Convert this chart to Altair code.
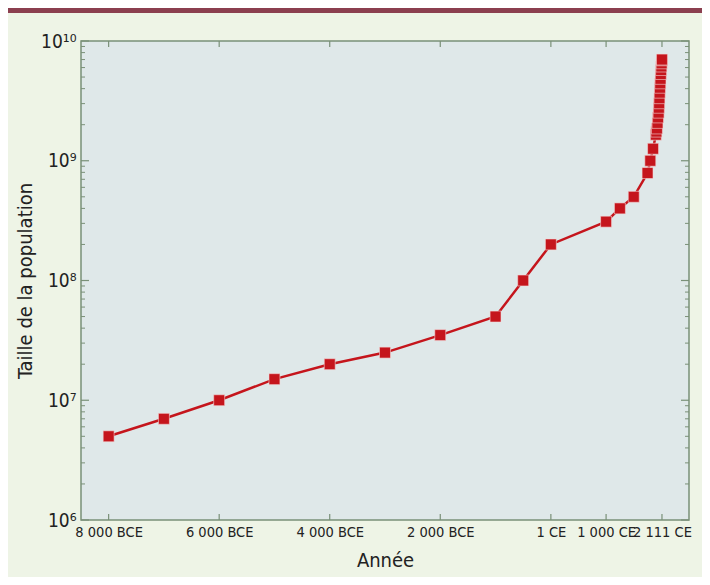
import altair as alt
import pandas as pd

# --- data ---
years = [-8000, -7000, -6000, -5000, -4000, -3000, -2000, -1000, -500, 1,
         1000, 1250, 1500, 1750, 1800, 1850, 1900, 1910, 1920, 1930, 1940,
         1950, 1955, 1960, 1965, 1970, 1975, 1980, 1985, 1990, 1995, 2000,
         2005, 2010, 2011]
population = [5e6, 7e6, 1e7, 1.5e7, 2e7, 2.5e7, 3.5e7, 5e7, 1e8, 2e8,
              3.1e8, 4e8, 5e8, 7.9e8, 1e9, 1.26e9, 1.65e9, 1.75e9, 1.86e9, 2.07e9, 2.3e9,
              2.52e9, 2.77e9, 3.02e9, 3.33e9, 3.7e9, 4.07e9, 4.43e9, 4.83e9, 5.3e9, 5.72e9, 6.12e9,
              6.51e9, 6.9e9, 7.0e9]

x_ticks = [-8000, -6000, -4000, -2000, 1, 1000, 2011]
x_labels = ["8 000 BCE", "6 000 BCE", "4 000 BCE", "2 000 BCE", "1 CE", "1 000 CE", "2 111 CE"]
y_ticks = [1e6, 1e7, 1e8, 1e9, 1e10]
y_labels = ["10⁶", "10⁷", "10⁸", "10⁹", "10¹⁰"]

W, H = 608, 479
FONT = "DejaVu Sans Condensed"
AXIS_COLOR = "#7a9078"
RED = "#c5151c"

df = pd.DataFrame({"year": years, "pop": population})

def label_expr(vals, labels):
    expr = "''"
    for v, l in reversed(list(zip(vals, labels))):
        expr = f"(abs(datum.value - ({v})) < 1e-6 * max(1, abs({v}))) ? '{l}' : {expr}"
    return expr

xscale = alt.Scale(domain=[-8500, 2500], nice=False, zero=False)
yscale = alt.Scale(type="log", domain=[1e6, 1e10], nice=False)

xaxis = alt.Axis(values=x_ticks, labelExpr=label_expr(x_ticks, x_labels), ticks=False,
                 domain=False, grid=False, title="Année", labelFont=FONT, labelFontSize=14.5,
                 labelColor="#222", labelPadding=5, titleFont=FONT, titleFontSize=20,
                 titleFontWeight="normal", titleColor="#222", titlePadding=12,
                 labelOverlap=False, labelFlush=False)
yaxis = alt.Axis(values=y_ticks, labelExpr=label_expr(y_ticks, y_labels), ticks=False,
                 domain=False, grid=False, title="Taille de la population", labelFont=FONT,
                 labelFontSize=19, labelColor="#222", labelPadding=5, titleFont=FONT,
                 titleFontSize=20, titleFontWeight="normal", titleColor="#222", titlePadding=5,
                 labelOverlap=False)

line = alt.Chart(df).mark_line(color=RED, strokeWidth=2.5).encode(
    x=alt.X("year:Q", scale=xscale, axis=xaxis),
    y=alt.Y("pop:Q", scale=yscale, axis=yaxis),
)
points = alt.Chart(df).mark_square(size=120, color=RED, opacity=1, stroke="#f3d6d6", strokeWidth=0.6).encode(
    x=alt.X("year:Q", scale=xscale, axis=xaxis),
    y=alt.Y("pop:Q", scale=yscale, axis=yaxis),
)

# tick marks drawn inward
xt = pd.DataFrame({"year": x_ticks})
xtick_bottom = alt.Chart(xt).mark_rule(color=AXIS_COLOR, strokeWidth=1.2).encode(
    x=alt.X("year:Q", scale=xscale, axis=xaxis), y=alt.value(H), y2=alt.value(H - 6))
xtick_top = alt.Chart(xt).mark_rule(color=AXIS_COLOR, strokeWidth=1.2).encode(
    x=alt.X("year:Q", scale=xscale, axis=xaxis), y=alt.value(0), y2=alt.value(6))

minor = [m * 10 ** e for e in range(6, 10) for m in range(2, 10)]
ymin = pd.DataFrame({"pop": minor})
ymaj = pd.DataFrame({"pop": y_ticks})
ytl_min = alt.Chart(ymin).mark_rule(color=AXIS_COLOR, strokeWidth=1).encode(
    y=alt.Y("pop:Q", scale=yscale, axis=yaxis), x=alt.value(0), x2=alt.value(4))
ytl_maj = alt.Chart(ymaj).mark_rule(color=AXIS_COLOR, strokeWidth=1.2).encode(
    y=alt.Y("pop:Q", scale=yscale, axis=yaxis), x=alt.value(0), x2=alt.value(8))
ytr_min = alt.Chart(ymin).mark_rule(color=AXIS_COLOR, strokeWidth=1).encode(
    y=alt.Y("pop:Q", scale=yscale, axis=yaxis), x=alt.value(W), x2=alt.value(W - 4))
ytr_maj = alt.Chart(ymaj).mark_rule(color=AXIS_COLOR, strokeWidth=1.2).encode(
    y=alt.Y("pop:Q", scale=yscale, axis=yaxis), x=alt.value(W), x2=alt.value(W - 8))

bar = alt.Chart(pd.DataFrame({"a": [0]})).mark_rect(color="#8b3f4f").encode(
    x=alt.value(-73), x2=alt.value(W + 13), y=alt.value(-33), y2=alt.value(-28))

chart = alt.layer(
    line, points, xtick_bottom, xtick_top, ytl_min, ytl_maj, ytr_min, ytr_maj, bar
).properties(
    width=W, height=H,
    autosize=alt.AutoSizeParams(type="none"),
    padding={"left": 73, "top": 33, "right": 13, "bottom": 57},
    background="#eef4e6",
).configure_view(fill="#dfe8e9", stroke=AXIS_COLOR, strokeWidth=1.5)

chart.save("out.html", embed_options={"renderer": "svg", "actions": False})
